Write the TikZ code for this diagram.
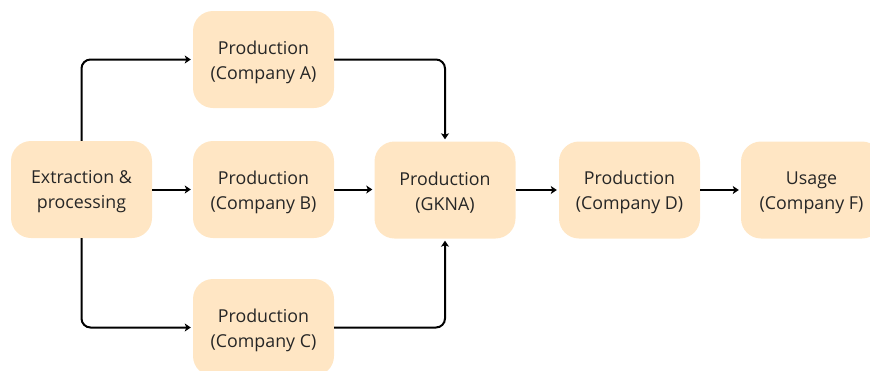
\documentclass[tikz,border=0pt]{standalone}
\usepackage{fontspec}
\setmainfont{Open Sans}
\usetikzlibrary{arrows.meta}
\definecolor{boxfill}{HTML}{FFE6C4}
\definecolor{txt}{HTML}{262626}
\newcommand{\flowbox}[3]{%
  \node[box] (#1) at (#2) {};
  \node[boxtext] (#1-t) at ([yshift=-2.5pt]#1.center) {#3};}
\begin{document}
\begin{tikzpicture}[x=1pt,y=-1pt,
  box/.style={fill=boxfill, draw=none, rounded corners=20pt, minimum width=141pt, minimum height=97pt, inner sep=0pt},
  boxtext/.style={align=center, text=txt, font=\fontsize{17.8}{25}\selectfont, inner sep=0pt},
  conn/.style={draw=black, line width=2pt, rounded corners=9pt,
    -{Stealth[length=6pt,width=8pt,inset=1.5pt]}, shorten >=2pt}]
\useasboundingbox (0,0) rectangle (870,370);
\flowbox{ex}{81.5,189.5}{Extraction \&\\processing}
\flowbox{a}{263.5,59.5}{Production\\(Company A)}
\flowbox{b}{263.5,189.5}{Production\\(Company B)}
\flowbox{c}{263.5,327.5}{Production\\(Company C)}
\flowbox{g}{445,190}{Production\\(GKNA)}
\flowbox{d}{629.5,190}{Production\\(Company D)}
\flowbox{f}{811.5,190}{Usage\\(Company F)}
\draw[conn] (ex.north) |- (a.west);
\draw[conn] (ex.east) -- (b.west);
\draw[conn] (ex.south) |- (c.west);
\draw[conn] (a.east) -| (g.north);
\draw[conn] (b.east) -- (b.east -| g.west);
\draw[conn] (c.east) -| (g.south);
\draw[conn] (g.east) -- (d.west);
\draw[conn] (d.east) -- (f.west);
\end{tikzpicture}
\end{document}
